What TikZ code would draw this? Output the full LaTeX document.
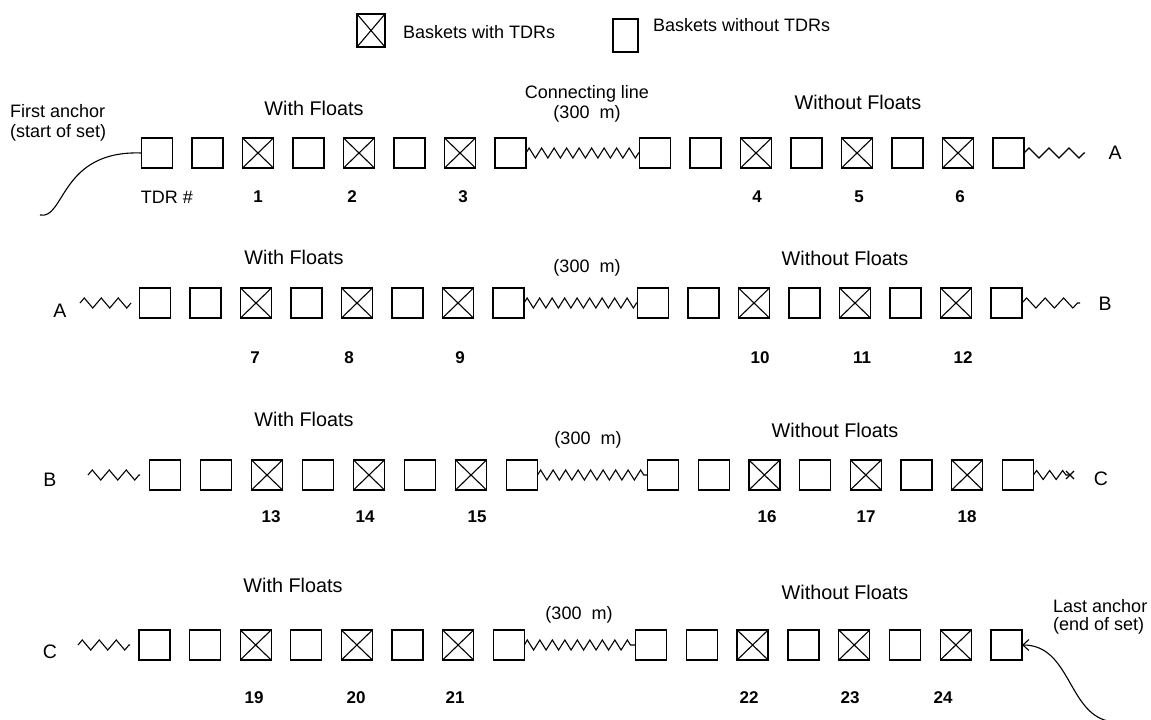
\documentclass[tikz,border=0pt]{standalone}
\usepackage{fontspec}
\setmainfont{Liberation Sans}
\usetikzlibrary{decorations.pathmorphing,arrows.meta}
\begin{document}
\begin{tikzpicture}[x=1pt,y=-1pt,
  basket/.style={draw, line width=1.3pt, minimum width=31pt, minimum height=30pt, inner sep=0pt, outer sep=0pt},
  tdr/.style={basket, path picture={\draw[line width=1.1pt] (path picture bounding box.north west) -- (path picture bounding box.south east) (path picture bounding box.north east) -- (path picture bounding box.south west);}},
  lbl/.style={font=\fontsize{18}{20}\selectfont, inner sep=0pt},
  sect/.style={font=\fontsize{19.8}{22}\selectfont, inner sep=0pt},
  letter/.style={font=\fontsize{19.5}{22}\selectfont, inner sep=0pt},
  num/.style={font=\fontsize{17}{20}\selectfont\bfseries, inner sep=0pt},
  zz/.style={line width=1.1pt, decorate, decoration={zigzag, segment length=12.5pt, amplitude=5pt}},
  zzend/.style={line width=1.1pt, decorate, decoration={zigzag, segment length=18.5pt, amplitude=5pt}},
  curve/.style={line width=1.1pt},
]
\useasboundingbox (0,0) rectangle (1151,720);

% legend
\node[tdr, minimum width=28pt, minimum height=33pt] (legX) at (371,30.5) {};
\node[lbl, anchor=west] (legXt) at (403,32) {Baskets with TDRs};
\node[basket, minimum width=25pt, minimum height=33pt] (legB) at (625.5,35.5) {};
\node[lbl, anchor=west] (legBt) at (653,25) {Baskets without TDRs};

% rows of baskets
\foreach \r/\y/\ls/\lst/\rs/\rst in {1/153/157/50.5/655/50.5, 2/303/155/50.5/653/50.5, 3/475/165/51/663/50.7, 4/645/154.5/50.6/651/50.8}{
  \foreach \i/\s in {1/basket,2/basket,3/tdr,4/basket,5/tdr,6/basket,7/tdr,8/basket}{
    \node[\s] (r\r-L\i) at ({\ls+(\i-1)*\lst},\y) {};
    \node[\s] (r\r-R\i) at ({\rs+(\i-1)*\rst},\y) {};
  }
  \draw[zz] (r\r-L8.east) -- (r\r-R1.west);
}

% end lines
\coordinate (e1) at (1085,153);
\draw[zzend, decoration={segment length=20pt}] (r1-R8.east) -- (e1);
\coordinate (s2a) at (80,303);
\coordinate (s2b) at (131,303);
\draw[zzend, decoration={segment length=17pt}] (s2a) -- (s2b);
\coordinate (e2) at (1080,303);
\draw[zzend] (r2-R8.east) -- (e2);
\coordinate (s3a) at (88,475);
\coordinate (s3b) at (140,475);
\draw[zzend, decoration={segment length=17pt}] (s3a) -- (s3b);
\coordinate (e3) at (1070,475);
\draw[zzend, decoration={segment length=13pt, amplitude=4.5pt}] (r3-R8.east) -- (e3);
\draw[line width=1.1pt] ([xshift=-4pt,yshift=4pt]e3) -- ([xshift=4pt,yshift=-4pt]e3)
  ([xshift=-4pt,yshift=-4pt]e3) -- ([xshift=4pt,yshift=4pt]e3);
\coordinate (s4a) at (78,645);
\coordinate (s4b) at (130,645);
\draw[zzend, decoration={segment length=17pt}] (s4a) -- (s4b);

% anchors
\coordinate (faEnd) at (40,215);
\draw[curve] (r1-L1.west) .. controls (60,150) and (65,220) .. (faEnd);
\coordinate (laEnd) at (1108,721);
\draw[curve, {Straight Barb[length=6pt,width=11pt]}-] (r4-R8.east) .. controls (1070,645) and (1068,712) .. (laEnd);
\node[lbl, align=left, anchor=west] (fa) at (10,123) {First anchor\\(start of set)};
\node[lbl, align=left, anchor=west, font=\fontsize{18}{18.5}\selectfont] (la) at (1053,617) {Last anchor\\(end of set)};

% letters
\node[letter] (A1) at (1115,153) {A};
\node[letter] (A2) at (60,311) {A};
\node[letter] (B2) at (1105,304) {B};
\node[letter] (B3) at (50,480) {B};
\node[letter] (C3) at (1101,479) {C};
\node[letter] (C4) at (50,652) {C};

% section labels
\node[sect] (wf1) at (314,108) {With Floats};
\node[sect] (wf2) at (294,257) {With Floats};
\node[sect] (wf3) at (304,419) {With Floats};
\node[sect] (wf4) at (293,585) {With Floats};
\node[sect] (nf1) at (858,102) {Without Floats};
\node[sect] (nf2) at (845,258) {Without Floats};
\node[sect] (nf3) at (835,430) {Without Floats};
\node[sect] (nf4) at (845,592) {Without Floats};
\node[lbl, align=center] (cl1) at (587,104) {Connecting line\\(300~ m)};
\node[lbl] (cl2) at (587,268) {(300~ m)};
\node[lbl] (cl3) at (588,440) {(300~ m)};
\node[lbl] (cl4) at (579,615) {(300~ m)};
\node[lbl] (tdrh) at (167,197) {TDR \#};

% TDR numbers
\foreach \n/\x/\y in {1/258/197, 2/352/197, 3/463/197, 4/757/197, 5/859/197, 6/960/197,
  7/255/358, 8/349/358, 9/460/358, 10/760/358, 11/862/358, 12/963/358,
  13/271/517, 14/365/517, 15/477/517, 16/767/517, 17/866/517, 18/967/517,
  19/254/698, 20/356/698, 21/455/698, 22/749/698, 23/850/698, 24/943/698}{
  \node[num] (n\n) at (\x,\y) {\n};
}
\end{tikzpicture}
\end{document}
